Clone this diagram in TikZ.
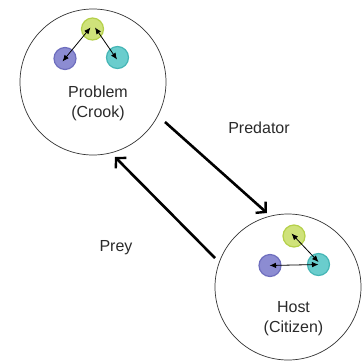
\documentclass[tikz,border=0pt]{standalone}
\usepackage{fontspec}
\setmainfont{Liberation Sans}
\usetikzlibrary{arrows.meta}
\definecolor{limeF}{HTML}{CFE27A}
\definecolor{limeD}{HTML}{B5D04A}
\definecolor{violetF}{HTML}{8C8CD2}
\definecolor{violetD}{HTML}{6E6EBE}
\definecolor{tealF}{HTML}{6ACDCD}
\definecolor{tealD}{HTML}{45B5B5}
\definecolor{txt}{HTML}{2A2A2A}
\tikzset{
  group/.style={circle, draw=black!80, line width=0.7pt, minimum size=146pt, inner sep=0pt},
  agent/.style={circle, line width=1.2pt, minimum size=22pt, inner sep=0pt},
  lime/.style={agent, fill=limeF, draw=limeD},
  violet/.style={agent, fill=violetF, draw=violetD},
  teal/.style={agent, fill=tealF, draw=tealD},
  link/.style={{Latex[length=6.5pt,width=5.5pt]}-{Latex[length=6.5pt,width=5.5pt]}, line width=0.8pt, black},
  flow/.style={-{Straight Barb[length=7pt,width=15pt,line width=2.4pt]}, line width=2.6pt, black},
  label/.style={text=txt, font=\fontsize{16}{20}\selectfont, align=center}
}
\begin{document}
\begin{tikzpicture}[x=1pt,y=-1pt]
\useasboundingbox (0,0) rectangle (362,360);

% the two groups
\node[group] (crook) at (93,82) {};
\node[group] (citizen) at (288,287) {};

% members of the problem group
\node[lime] (c1) at (92.5,29) {};
\node[violet] (c2) at (65,58.5) {};
\node[teal] (c3) at (117.5,57.5) {};
\coordinate (c1a) at (90.5,27.5);
\coordinate (c1b) at (95,27.5);
\coordinate (c2t) at (62.5,61.5);
\coordinate (c3t) at (117,59.5);
\draw[link] (c1a) -- (c2t);
\draw[link] (c1b) -- (c3t);

% members of the host group
\node[lime] (h1) at (294,236) {};
\node[violet] (h2) at (270,265.5) {};
\node[teal] (h3) at (318.5,264.5) {};
\coordinate (h1t) at (291.5,233.5);
\coordinate (h3a) at (318.5,262);
\coordinate (h2t) at (269.5,265.5);
\coordinate (h3b) at (318.5,264.5);
\draw[link] (h1t) -- (h3a);
\draw[link] (h2t) -- (h3b);

% group labels
\node[label] (ptxt) at (98,103.5) {Problem\\(Crook)};
\node[label] (htxt) at (293.5,318.5) {Host\\(Citizen)};

% interactions between the groups
\coordinate (pa) at (165,122);
\coordinate (pb) at (267,213);
\coordinate (qa) at (215,258);
\coordinate (qb) at (115,157);
\draw[flow] (pa) -- (pb);
\draw[flow] (qa) -- (qb);
\node[label] (pred) at (259,128) {Predator};
\node[label] (prey) at (116,248) {Prey};
\end{tikzpicture}
\end{document}
